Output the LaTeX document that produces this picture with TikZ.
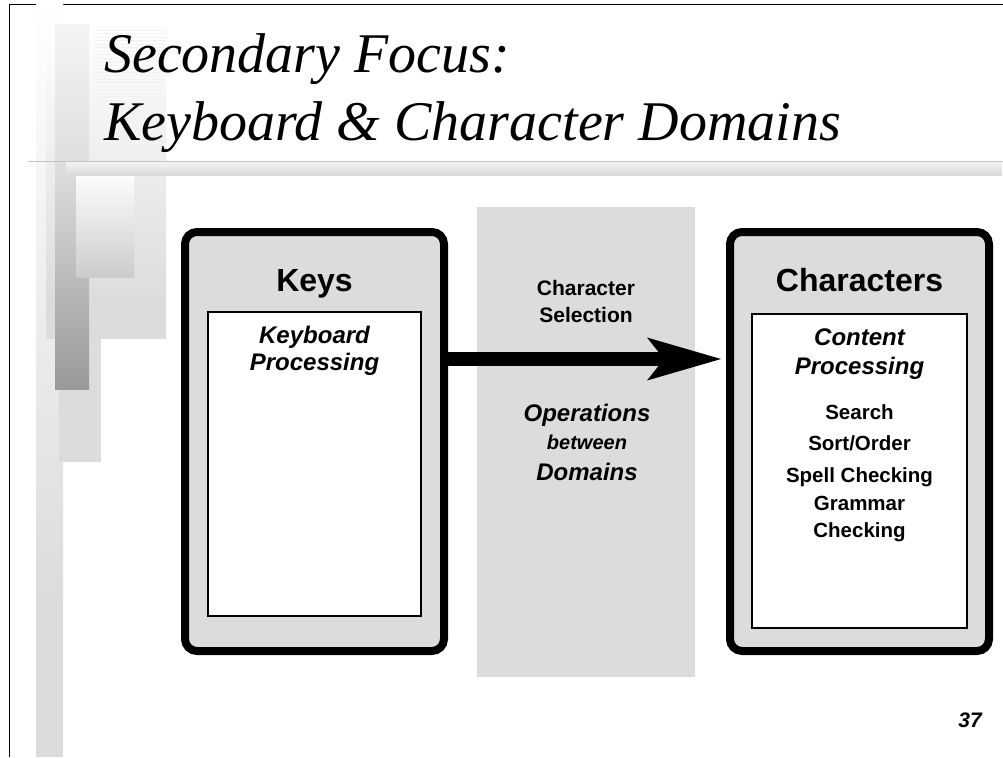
\documentclass[tikz,border=0pt]{standalone}
\usepackage{fontspec}
\setmainfont{Liberation Serif}
\setsansfont{Liberation Sans}
\usetikzlibrary{arrows.meta}
\definecolor{panel}{HTML}{DCDCDC}
\definecolor{rule}{HTML}{C4C4C4}
\definecolor{barhi}{HTML}{F4F4F4}
\definecolor{barmid}{HTML}{DEDEDE}
\definecolor{barlo}{HTML}{999999}
\newcommand{\fsz}[1]{\fontsize{#1}{#1}\selectfont}
\tikzset{
  domainbox/.style={draw=black, line width=8pt, rounded corners=12pt, fill=panel,
    minimum width=259pt, minimum height=419pt, inner sep=0pt},
  workarea/.style={draw=black, line width=2pt, fill=white, inner sep=0pt},
  headtext/.style={anchor=base, inner sep=0pt, font=\sffamily\bfseries\fsz{32}},
  subheadtext/.style={anchor=base, inner sep=0pt, font=\sffamily\bfseries\itshape\fsz{24}},
  itemtext/.style={anchor=base, inner sep=0pt, font=\sffamily\bfseries\fsz{20.5}},
  smallital/.style={anchor=base, inner sep=0pt, font=\sffamily\bfseries\itshape\fsz{20}},
  titleline/.style={anchor=base west, inner sep=0pt, font=\itshape\fsz{56}},
  bigarrow/.style={line width=14pt,
    -{Stealth[length=74pt, width=43pt, inset=17pt, line width=0pt]}},
}
\begin{document}
\begin{tikzpicture}[x=1pt, y=-1pt]
\useasboundingbox (0,0) rectangle (1003,757);
\fill[white] (0,0) rectangle (1003,757);

% page frame
\draw[line width=1.2pt] (9.3,757) -- (9.3,4.5) -- (1003,4.5);

% decorative bars down the left margin
\shade[top color=white, bottom color=panel] (36,0) rectangle (63,600);
\fill[panel] (36,600) rectangle (63,757);
\shade[top color=white, bottom color=panel] (46,25) rectangle (166,300);
\fill[panel] (46,300) rectangle (166,339);
\foreach \yy in {30,33.5,...,158} \draw[black!5, line width=0.8pt] (95,\yy) -- (166,\yy);
\fill[panel] (59,339) rectangle (101,462);
\shade[top color=barhi, bottom color=barmid] (55,25) rectangle (89,165.5);
\shade[top color=barmid, bottom color=barlo] (55,165) rectangle (89,389);
\shade[top color=white, bottom color=black!20] (76,170) rectangle (134,277);

% rule under the title
\draw[rule, line width=1pt] (28,161) -- (1003,161);
\shade[top color=white!95!black, bottom color=black!15] (66,162) rectangle (1002,175.5);

% title
\node[titleline] (t1) at (104,73) {Secondary Focus:};
\node[titleline] (t2) at (104,140) {Keyboard \& Character Domains};

% band between the two domains
\fill[panel] (477,207) rectangle (695,677);

% keyboard domain
\node[domainbox] (keys) at (314.5,441.5) {};
\node[workarea, minimum width=213pt, minimum height=304pt] (kwork) at (314.5,464) {};
\node[headtext] (keyshead) at (314.5,291) {Keys};
\node[subheadtext] (kp1) at (314.5,343) {Keyboard};
\node[subheadtext] (kp2) at (314.5,370) {Processing};

% character domain
\node[domainbox] (chars) at (859.5,441.5) {};
\node[workarea, minimum width=215pt, minimum height=314pt] (cwork) at (859.5,471) {};
\node[headtext] (charshead) at (859.5,291) {Characters};
\node[subheadtext] (cp1) at (859.5,345) {Content};
\node[subheadtext] (cp2) at (859.5,374) {Processing};
\node[itemtext] (i1) at (859.5,419) {Search};
\node[itemtext] (i2) at (859.5,450) {Sort/Order};
\node[itemtext] (i3) at (859.5,482) {Spell Checking};
\node[itemtext] (i4) at (859.5,510) {Grammar};
\node[itemtext] (i5) at (859.5,537) {Checking};

% operation labels
\node[itemtext, font=\sffamily\bfseries\fsz{21}] (sel1) at (586,295) {Character};
\node[itemtext, font=\sffamily\bfseries\fsz{21}] (sel2) at (586,322) {Selection};
\node[subheadtext] (op1) at (587,421) {Operations};
\node[smallital] (op2) at (587,449) {between};
\node[subheadtext] (op3) at (587,480) {Domains};

% selection arrow from keys to characters
\coordinate (lane) at (0,359);
\draw[bigarrow, shorten >=5pt] (keys.east |- lane) -- (chars.west |- lane);

% page number
\node[smallital, font=\sffamily\bfseries\itshape\fsz{21}] (pg) at (970,727) {37};
\end{tikzpicture}
\end{document}
